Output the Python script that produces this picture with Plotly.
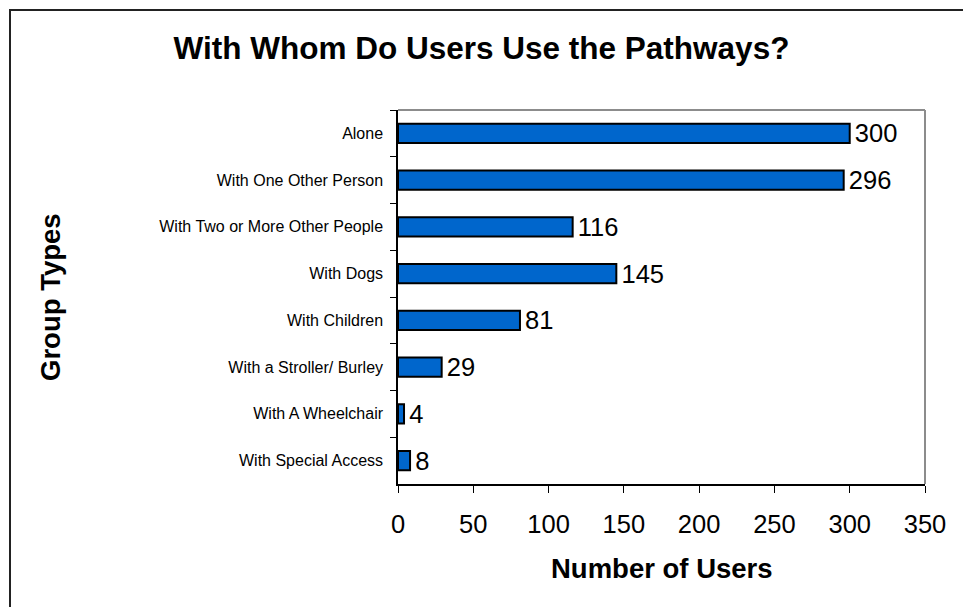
import plotly.graph_objects as go

# Survey data: group types and number of users
categories = [
    "Alone",
    "With One Other Person",
    "With Two or More Other People",
    "With Dogs",
    "With Children",
    "With a Stroller/ Burley",
    "With A Wheelchair",
    "With Special Access",
]
users = [300, 296, 116, 145, 81, 29, 4, 8]
x_ticks = [0, 50, 100, 150, 200, 250, 300, 350]

W, H = 963, 607
L, R, T, B = 398, 38, 110, 123
pw, ph = W - L - R, H - T - B

FONT = "Liberation Sans, Arial, sans-serif"

fig = go.Figure(
    go.Bar(
        x=users,
        y=categories,
        orientation="h",
        width=0.41,
        marker=dict(color="#0066CC", line=dict(color="black", width=2)),
        text=users,
        texttemplate="\u200a%{text}",
        textposition="outside",
        constraintext="none",
        textfont=dict(size=25.5, color="black", family=FONT),
        cliponaxis=False,
    )
)

fig.update_layout(
    width=W,
    height=H,
    margin=dict(l=L, r=R, t=T, b=B, autoexpand=False),
    paper_bgcolor="white",
    plot_bgcolor="white",
    font=dict(family=FONT, color="black"),
    showlegend=False,
    title=dict(
        text="<b>With Whom Do Users Use the Pathways?</b>",
        font=dict(size=31.5, color="black", family=FONT),
        x=0.5,
        xref="container",
        xanchor="center",
        y=1 - 48 / H,
        yref="container",
        yanchor="middle",
    ),
)

fig.update_xaxes(
    range=[0, 350],
    tickvals=x_ticks,
    showgrid=False,
    zeroline=False,
    showline=True,
    linecolor="black",
    linewidth=1.5,
    ticks="outside",
    ticklen=7,
    tickcolor="black",
    tickfont=dict(size=25.5, family=FONT),
    ticklabelstandoff=10,
)

fig.update_yaxes(
    categoryorder="array",
    categoryarray=categories,
    autorange="reversed",
    showgrid=False,
    zeroline=False,
    showline=True,
    linecolor="black",
    linewidth=1.5,
    ticks="outside",
    tickson="boundaries",
    ticklen=6,
    tickcolor="black",
    tickfont=dict(size=16, family=FONT),
    ticklabelstandoff=10,
)

# gray top and right frame of the plot area
fig.add_shape(type="line", xref="paper", yref="paper", x0=0, x1=1, y0=1, y1=1,
              line=dict(color="#8c8c8c", width=2))
fig.add_shape(type="line", xref="paper", yref="paper", x0=1, x1=1, y0=0, y1=1,
              line=dict(color="#8c8c8c", width=2))

# outer chart border
fig.add_shape(type="rect", xref="paper", yref="paper",
              x0=(10 - L) / pw, x1=(W + 10 - L) / pw,
              y0=(T + ph - (H + 10)) / ph, y1=(T + ph - 10) / ph,
              line=dict(color="#222222", width=2), fillcolor="rgba(0,0,0,0)")

# axis titles
fig.add_annotation(text="<b>Number of Users</b>", xref="paper", yref="paper",
                   x=0.5, y=-(568 - (T + ph)) / ph, xanchor="center", yanchor="middle",
                   showarrow=False, font=dict(size=27.5, family=FONT, color="black"))
fig.add_annotation(text="<b>Group Types</b>", xref="paper", yref="paper",
                   x=-(L - 50) / pw, y=(T + ph - 297) / ph, xanchor="center", yanchor="middle",
                   textangle=-90, showarrow=False,
                   font=dict(size=27.5, family=FONT, color="black"))

fig.write_html(
    "out.html",
    config={"displayModeBar": False},
    post_script="document.body.style.margin='0';document.body.style.overflow='hidden';",
)
